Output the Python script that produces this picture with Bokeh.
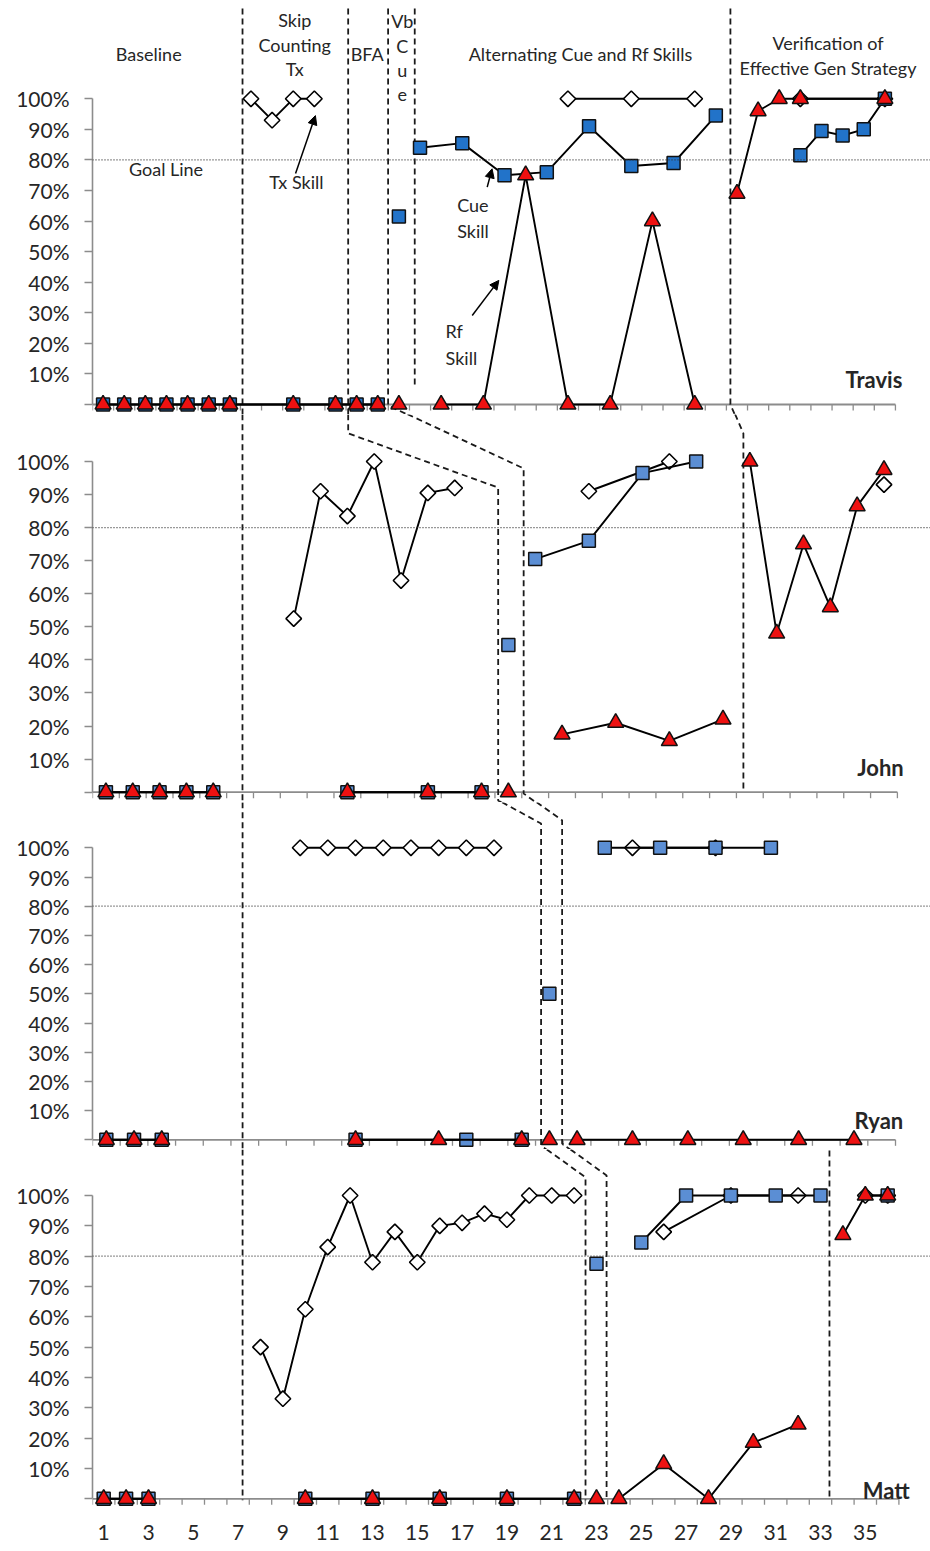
import math
import numpy as np
from bokeh.plotting import figure
from bokeh.layouts import column
from bokeh.models import Range1d, FixedTicker, Span, Arrow, NormalHead, Label, CustomJSTickFormatter
from bokeh.embed import file_html
from bokeh.resources import INLINE

NA = float("nan")

# ---------------- data (session, percent correct) ----------------
# Travis (38 sessions)
travis_tx_x = [8, 9, 10, 11, NA, 23, 26, 29, NA, 34, 38]
travis_tx_y = [100, 93, 100, 100, NA, 100, 100, 100, NA, 100, 100]
travis_cue_x = [1, 2, 3, 4, 5, 6, 7, 10, 12, 13, 14, NA, 15, NA, 16, 18, 20, 22, 24, 26, 28, 30, NA, 34, 35, 36, 37, 38]
travis_cue_y = [0, 0, 0, 0, 0, 0, 0, 0, 0, 0, 0, NA, 61.5, NA, 84, 85.5, 75, 76, 91, 78, 79, 94.5, NA, 81.5, 89.5, 88, 90, 100]
travis_rf_x = [1, 2, 3, 4, 5, 6, 7, 10, 12, 13, 14, NA, 15, NA, 17, 19, 21, 23, 25, 27, 29, NA, 31, 32, 33, 34, 38]
travis_rf_y = [0, 0, 0, 0, 0, 0, 0, 0, 0, 0, 0, NA, 0, NA, 0, 0, 75, 0, 0, 60, 0, NA, 69, 96, 100, 100, 100]

# John (30 sessions)
john_tx_x = [8, 9, 10, 11, 12, 13, 14, NA, 19, 22, NA, 30]
john_tx_y = [52.5, 91, 83.5, 100, 64, 90.5, 92, NA, 91, 100, NA, 93]
john_cue_x = [1, 2, 3, 4, 5, NA, 10, 13, 15, NA, 16, NA, 17, 19, 21, 23]
john_cue_y = [0, 0, 0, 0, 0, NA, 0, 0, 0, NA, 44.5, NA, 70.5, 76, 96.5, 100]
john_rf_x = [1, 2, 3, 4, 5, NA, 10, 13, 15, NA, 16, NA, 18, 20, 22, 24, NA, 25, 26, 27, 28, 29, 30]
john_rf_y = [0, 0, 0, 0, 0, NA, 0, 0, 0, NA, 0, NA, 17.5, 21, 15.5, 22, NA, 100, 48, 75, 56, 86.5, 97.5]

# Ryan (29 sessions)
ryan_tx_x = [8, 9, 10, 11, 12, 13, 14, 15, NA, 20, 23]
ryan_tx_y = [100, 100, 100, 100, 100, 100, 100, 100, NA, 100, 100]
ryan_cue_x = [1, 2, 3, NA, 10, 14, 16, NA, 17, NA, 19, 21, 23, 25]
ryan_cue_y = [0, 0, 0, NA, 0, 0, 0, NA, 50, NA, 100, 100, 100, 100]
ryan_rf_x = [1, 2, 3, NA, 10, 13, 16, NA, 17, NA, 18, 20, 22, 24, 26, 28]
ryan_rf_y = [0, 0, 0, NA, 0, 0, 0, NA, 0, NA, 0, 0, 0, 0, 0, 0]

# Matt (36 sessions)
matt_tx_x = [8, 9, 10, 11, 12, 13, 14, 15, 16, 17, 18, 19, 20, 21, 22, NA, 26, 29, 32, NA, 35, 36]
matt_tx_y = [50, 33, 62.5, 83, 100, 78, 88, 78, 90, 91, 94, 92, 100, 100, 100, NA, 88, 100, 100, NA, 100, 100]
matt_cue_x = [1, 2, 3, NA, 10, 13, 16, 19, 22, NA, 23, NA, 25, 27, 29, 31, 33, NA, 36]
matt_cue_y = [0, 0, 0, NA, 0, 0, 0, 0, 0, NA, 77.5, NA, 84.5, 100, 100, 100, 100, NA, 100]
matt_rf_x = [1, 2, 3, NA, 10, 13, 16, 19, 22, NA, 23, NA, 24, 26, 28, 30, 32, NA, 34, 35, 36]
matt_rf_y = [0, 0, 0, NA, 0, 0, 0, 0, 0, NA, 0, NA, 0, 11.5, 0, 18.5, 24.5, NA, 87, 100, 100]

x_tick_labels = [1, 3, 5, 7, 9, 11, 13, 15, 17, 19, 21, 23, 25, 27, 29, 31, 33, 35]
y_ticks = [0, 10, 20, 30, 40, 50, 60, 70, 80, 90, 100]
goal = 80

# phase-change lines (session units, percent) per panel
travis_phase = [
    ([7.60, 7.60], [129.5, -3.3]),
    ([12.60, 12.60], [129.5, -3.3]),
    ([14.49, 14.49, 15.41], [129.5, -0.33, -3.3]),
    ([15.75, 15.75], [129.5, 6.2]),
    ([30.69, 30.69, 30.90], [129.5, 0.0, -3.3]),
]
john_phase = [
    ([6.09, 6.09], [114.3, -3.2]),
    ([10.03, 10.03, 15.62, 15.62, 15.76], [114.3, 108.5, 92.1, -2.5, -3.2]),
    ([12.24, 16.57, 16.57, 17.05], [114.3, 97.9, -0.4, -3.2]),
    ([24.45, 24.76, 24.76], [114.3, 108.5, -0.1]),
]
ryan_phase = [
    ([5.92, 5.92], [115.6, -3.4]),
    ([15.29, 16.70, 16.70, 16.90], [115.6, 108.3, -1.95, -3.4]),
    ([16.54, 17.46, 17.46, 17.76], [115.6, 109.4, -1.27, -3.4]),
]
matt_phase = [
    ([7.20, 7.20], [115.2, -0.5]),
    ([20.78, 22.51, 22.51], [115.2, 106.0, -0.5]),
    ([21.84, 23.45, 23.45], [115.2, 106.6, -0.5]),
    ([33.4, 33.4], [114.8, -0.5]),
]

# ---------------- styling ----------------
FONT = "Lato"
W = 930
LEFT = 92
FRAME_W = W - LEFT
AXIS_GREY = "#8c8c8c"
TXT = "#262626"
RED = "#ee1111"


def make_panel(height, frame_h, zero_px, px_per_pct, px_per_session, n_sessions, bottom_axis=False):
    ymax = zero_px / px_per_pct
    ymin = -(frame_h - zero_px) / px_per_pct
    xmax = 0.5 + FRAME_W / px_per_session
    p = figure(width=W, height=height, x_range=Range1d(0.5, xmax), y_range=Range1d(ymin, ymax),
               output_backend="svg", toolbar_location=None,
               x_axis_type="linear" if bottom_axis else None,
               min_border_left=LEFT, min_border_right=0, min_border_top=0,
               min_border_bottom=height - frame_h)
    p.outline_line_color = None
    p.grid.visible = False
    p.background_fill_color = "white"
    p.border_fill_color = "white"

    yax = p.yaxis[0]
    yax.ticker = FixedTicker(ticks=y_ticks, minor_ticks=[])
    yax.formatter = CustomJSTickFormatter(code="return tick == 0 ? '' : tick + '%';")
    yax.bounds = (0, 100)
    yax.axis_line_color = AXIS_GREY
    yax.axis_line_width = 1.6
    yax.major_tick_line_color = AXIS_GREY
    yax.major_tick_line_width = 1.4
    yax.major_tick_out = 8
    yax.major_tick_in = 0
    yax.minor_tick_line_color = None
    yax.major_label_standoff = 15
    yax.major_label_text_font = FONT
    yax.major_label_text_font_size = "21px"
    yax.major_label_text_color = TXT

    # goal line
    p.add_layout(Span(location=goal, dimension="width", line_color="#333333",
                      line_width=1.2, line_dash="1 2"))

    # x axis line and category tick marks at y = 0
    tick_len = 6 / px_per_pct
    edges = [i + 0.5 for i in range(n_sessions + 1)]
    p.segment(x0=edges, y0=[0] * len(edges), x1=edges, y1=[-tick_len] * len(edges),
              line_color=AXIS_GREY, line_width=1.3)
    p.segment(x0=[0.5], y0=[0], x1=[n_sessions + 0.5], y1=[0],
              line_color=AXIS_GREY, line_width=1.8)

    if bottom_axis:
        xa = p.xaxis[0]
        xa.ticker = FixedTicker(ticks=x_tick_labels, minor_ticks=[])
        xa.axis_line_color = None
        xa.major_tick_line_color = None
        xa.minor_tick_line_color = None
        xa.major_tick_out = 0
        xa.major_tick_in = 0
        xa.minor_tick_out = 0
        xa.major_label_standoff = 17
        xa.major_label_text_font = FONT
        xa.major_label_text_font_size = "21px"
        xa.major_label_text_color = TXT
    return p


def add_phase(p, lines):
    p.multi_line(xs=[l[0] for l in lines], ys=[l[1] for l in lines],
                 line_color="#1a1a1a", line_width=1.8, line_dash="6 4")


def add_series(p, tx_x, tx_y, cue_x, cue_y, rf_x, rf_y, blue):
    tx_x, tx_y = np.array(tx_x, dtype=float), np.array(tx_y, dtype=float)
    cue_x, cue_y = np.array(cue_x, dtype=float), np.array(cue_y, dtype=float)
    rf_x, rf_y = np.array(rf_x, dtype=float), np.array(rf_y, dtype=float)
    p.line(tx_x, tx_y, line_color="black", line_width=1.9)
    p.scatter(tx_x, tx_y, marker="square", size=11, angle=math.pi / 4,
              fill_color="white", line_color="black", line_width=1.6)
    p.line(cue_x, cue_y, line_color="black", line_width=1.9)
    p.scatter(cue_x, cue_y, marker="square", size=13,
              fill_color=blue, line_color="#111111", line_width=1.5)
    p.line(rf_x, rf_y, line_color="black", line_width=1.9)
    p.scatter(rf_x, rf_y, marker="triangle", size=16,
              fill_color=RED, line_color="#111111", line_width=1.5)


def txt(p, x, y, s, size="18px", align="center", bold=False):
    p.add_layout(Label(x=x, y=y, text=s, text_align=align, text_baseline="middle",
                       text_font=FONT, text_font_size=size, text_color=TXT,
                       text_font_style="bold" if bold else "normal"))


def arrow(p, x0, y0, x1, y1):
    p.add_layout(Arrow(end=NormalHead(size=9, fill_color="black", line_color="black"),
                       x_start=x0, y_start=y0, x_end=x1, y_end=y1,
                       line_color="black", line_width=1.5))


# ---------------- Travis ----------------
pt = make_panel(414, 414, 404, 3.057, 21.13, 38)
add_phase(pt, travis_phase)
add_series(pt, travis_tx_x, travis_tx_y, travis_cue_x, travis_cue_y, travis_rf_x, travis_rf_y, "#2273c9")
txt(pt, 3.16, 114.7, "Baseline")
txt(pt, 10.07, 125.9, "Skip")
txt(pt, 10.07, 117.6, "Counting")
txt(pt, 10.07, 109.6, "Tx")
txt(pt, 13.5, 114.7, "BFA")
txt(pt, 15.16, 125.4, "Vb")
txt(pt, 15.16, 117.4, "C")
txt(pt, 15.16, 109.3, "u")
txt(pt, 15.16, 101.4, "e")
txt(pt, 23.6, 114.7, "Alternating Cue and Rf Skills")
txt(pt, 35.31, 118.4, "Verification of")
txt(pt, 35.31, 110.2, "Effective Gen Strategy")
txt(pt, 3.98, 76.9, "Goal Line")
txt(pt, 10.15, 72.7, "Tx Skill")
txt(pt, 17.76, 65.4, "Cue", align="left")
txt(pt, 17.76, 56.6, "Skill", align="left")
txt(pt, 17.21, 24.2, "Rf", align="left")
txt(pt, 17.21, 15.1, "Skill", align="left")
txt(pt, 37.48, 8.2, "Travis", size="22px", bold=True)
arrow(pt, 10.11, 75.6, 11.05, 94.5)
arrow(pt, 19.18, 71.1, 19.41, 77.1)
arrow(pt, 18.47, 29.1, 19.73, 40.6)

# ---------------- John ----------------
pj = make_panel(388, 388, 377.7, 3.307, 26.83, 30)
add_phase(pj, john_phase)
add_series(pj, john_tx_x, john_tx_y, john_cue_x, john_cue_y, john_rf_x, john_rf_y, "#5b8ed4")
txt(pj, 29.87, 7.56, "John", size="22px", bold=True)

# ---------------- Ryan ----------------
pr = make_panel(347, 347, 337.3, 2.92, 27.69, 29)
add_phase(pr, ryan_phase)
add_series(pr, ryan_tx_x, ryan_tx_y, ryan_cue_x, ryan_cue_y, ryan_rf_x, ryan_rf_y, "#5b8ed4")
txt(pr, 28.9, 6.6, "Ryan", size="22px", bold=True)

# ---------------- Matt ----------------
pm = make_panel(402, 358, 349.3, 3.033, 22.4, 36, bottom_axis=True)
add_phase(pm, matt_phase)
add_series(pm, matt_tx_x, matt_tx_y, matt_cue_x, matt_cue_y, matt_rf_x, matt_rf_y, "#5b8ed4")
txt(pm, 35.93, 2.7, "Matt", size="22px", bold=True)

layout = column(pt, pj, pr, pm, spacing=0)
open("out.html", "w").write(file_html(layout, INLINE))
